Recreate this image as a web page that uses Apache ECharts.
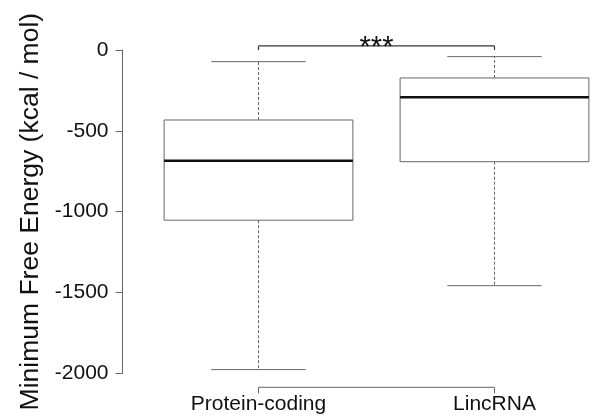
<!DOCTYPE html>
<html>
<head>
<meta charset="utf-8">
<script src="https://cdn.jsdelivr.net/npm/echarts@6/dist/echarts.min.js"></script>
<style>
html,body{margin:0;padding:0;background:#fff;}
#chart{width:598px;height:416px;}
</style>
</head>
<body>
<div id="chart"></div>
<script>
// ---- data ----
const categories = ['Protein-coding', 'LincRNA'];
const lowerWhisker = [-1977, -1458];
const q1Values = [-1053, -691];
const medianValues = [-685, -293];
const q3Values = [-433, -173];
const upperWhisker = [-72, -41];
const yTicks = [0, -500, -1000, -1500, -2000];
const yAxisTitle = 'Minimum Free Energy (kcal / mol)';
const sigLabel = '***';
const bracketLevel = 25;

const FONT = 'Liberation Sans, Arial, Helvetica, sans-serif';
const GRAY = '#666';

const boxData = categories.map((c, i) => [i, lowerWhisker[i], q1Values[i], medianValues[i], q3Values[i], upperWhisker[i]]);

const chart = echarts.init(document.getElementById('chart'), null, {renderer: 'canvas'});

const option = {
  animation: false,
  backgroundColor: '#fff',
  grid: {left: 140.5, right: -14.5, top: 50, bottom: 42.7, containLabel: false, outerBoundsMode: 'none'},
  xAxis: {
    type: 'category',
    data: categories,
    boundaryGap: true,
    axisLine: {show: false},
    axisTick: {show: false},
    splitLine: {show: false},
    axisLabel: {color: '#111', fontFamily: FONT, fontSize: 21, margin: 20, interval: 0}
  },
  yAxis: {
    type: 'value',
    min: Math.min(...yTicks),
    max: Math.max(...yTicks),
    interval: 500,
    offset: 18,
    name: yAxisTitle,
    nameLocation: 'middle',
    nameRotate: 90,
    nameGap: 77,
    nameTextStyle: {color: '#111', fontFamily: FONT, fontSize: 26.5},
    axisLine: {show: true, lineStyle: {color: GRAY, width: 1}},
    axisTick: {show: true, length: 7, lineStyle: {color: GRAY, width: 1}},
    axisLabel: {color: '#111', fontFamily: FONT, fontSize: 21, margin: 14, formatter: function (v) { return String(v); }},
    splitLine: {show: false}
  },
  series: [
    {
      type: 'custom',
      clip: false,
      data: boxData,
      encode: {x: 0, y: [1, 2, 3, 4, 5]},
      renderItem: function (params, api) {
        const idx = api.value(0);
        const pLow = api.coord([idx, api.value(1)]);
        const pQ1 = api.coord([idx, api.value(2)]);
        const pMed = api.coord([idx, api.value(3)]);
        const pQ3 = api.coord([idx, api.value(4)]);
        const pHigh = api.coord([idx, api.value(5)]);
        const x = pMed[0];
        const bw = api.size([1, 0])[0] * 0.8;
        const cw = bw / 2;
        const dash = {stroke: GRAY, lineWidth: 1, lineDash: [3, 2]};
        const solid = {stroke: GRAY, lineWidth: 1};
        return {
          type: 'group',
          children: [
            {type: 'line', shape: {x1: x, y1: pQ3[1], x2: x, y2: pHigh[1]}, style: dash},
            {type: 'line', shape: {x1: x, y1: pQ1[1], x2: x, y2: pLow[1]}, style: dash},
            {type: 'line', shape: {x1: x - cw / 2, y1: pHigh[1], x2: x + cw / 2, y2: pHigh[1]}, style: solid},
            {type: 'line', shape: {x1: x - cw / 2, y1: pLow[1], x2: x + cw / 2, y2: pLow[1]}, style: solid},
            {type: 'rect', shape: {x: x - bw / 2, y: pQ3[1], width: bw, height: pQ1[1] - pQ3[1]}, style: {fill: '#fff', stroke: GRAY, lineWidth: 1}},
            {type: 'line', shape: {x1: x - bw / 2, y1: pMed[1], x2: x + bw / 2, y2: pMed[1]}, style: {stroke: '#111', lineWidth: 2.5}}
          ]
        };
      }
    },
    {
      type: 'custom',
      clip: false,
      data: [[0, 1]],
      renderItem: function (params, api) {
        const a = api.coord([0, bracketLevel]);
        const b = api.coord([1, bracketLevel]);
        const a0 = api.coord([0, 0]);
        const aBot = api.coord([0, Math.min(...yTicks)]);
        const bBot = api.coord([1, Math.min(...yTicks)]);
        const axY = aBot[1] + 14;
        const st = {stroke: '#333', lineWidth: 1.2};
        const ax = {stroke: GRAY, lineWidth: 1};
        return {
          type: 'group',
          children: [
            {type: 'line', shape: {x1: a[0], y1: a[1], x2: b[0], y2: b[1]}, style: st},
            {type: 'line', shape: {x1: a[0], y1: a[1], x2: a[0], y2: a0[1]}, style: st},
            {type: 'line', shape: {x1: b[0], y1: b[1], x2: b[0], y2: a0[1]}, style: st},
            {type: 'text', x: (a[0] + b[0]) / 2, y: a[1] + 2, style: {text: sigLabel, fill: '#111', font: '29px ' + FONT, align: 'center', verticalAlign: 'middle'}},
            {type: 'line', shape: {x1: aBot[0], y1: axY, x2: bBot[0], y2: axY}, style: ax},
            {type: 'line', shape: {x1: aBot[0], y1: axY, x2: aBot[0], y2: axY + 6}, style: ax},
            {type: 'line', shape: {x1: bBot[0], y1: axY, x2: bBot[0], y2: axY + 6}, style: ax}
          ]
        };
      }
    }
  ]
};
chart.setOption(option);
</script>
</body>
</html>
